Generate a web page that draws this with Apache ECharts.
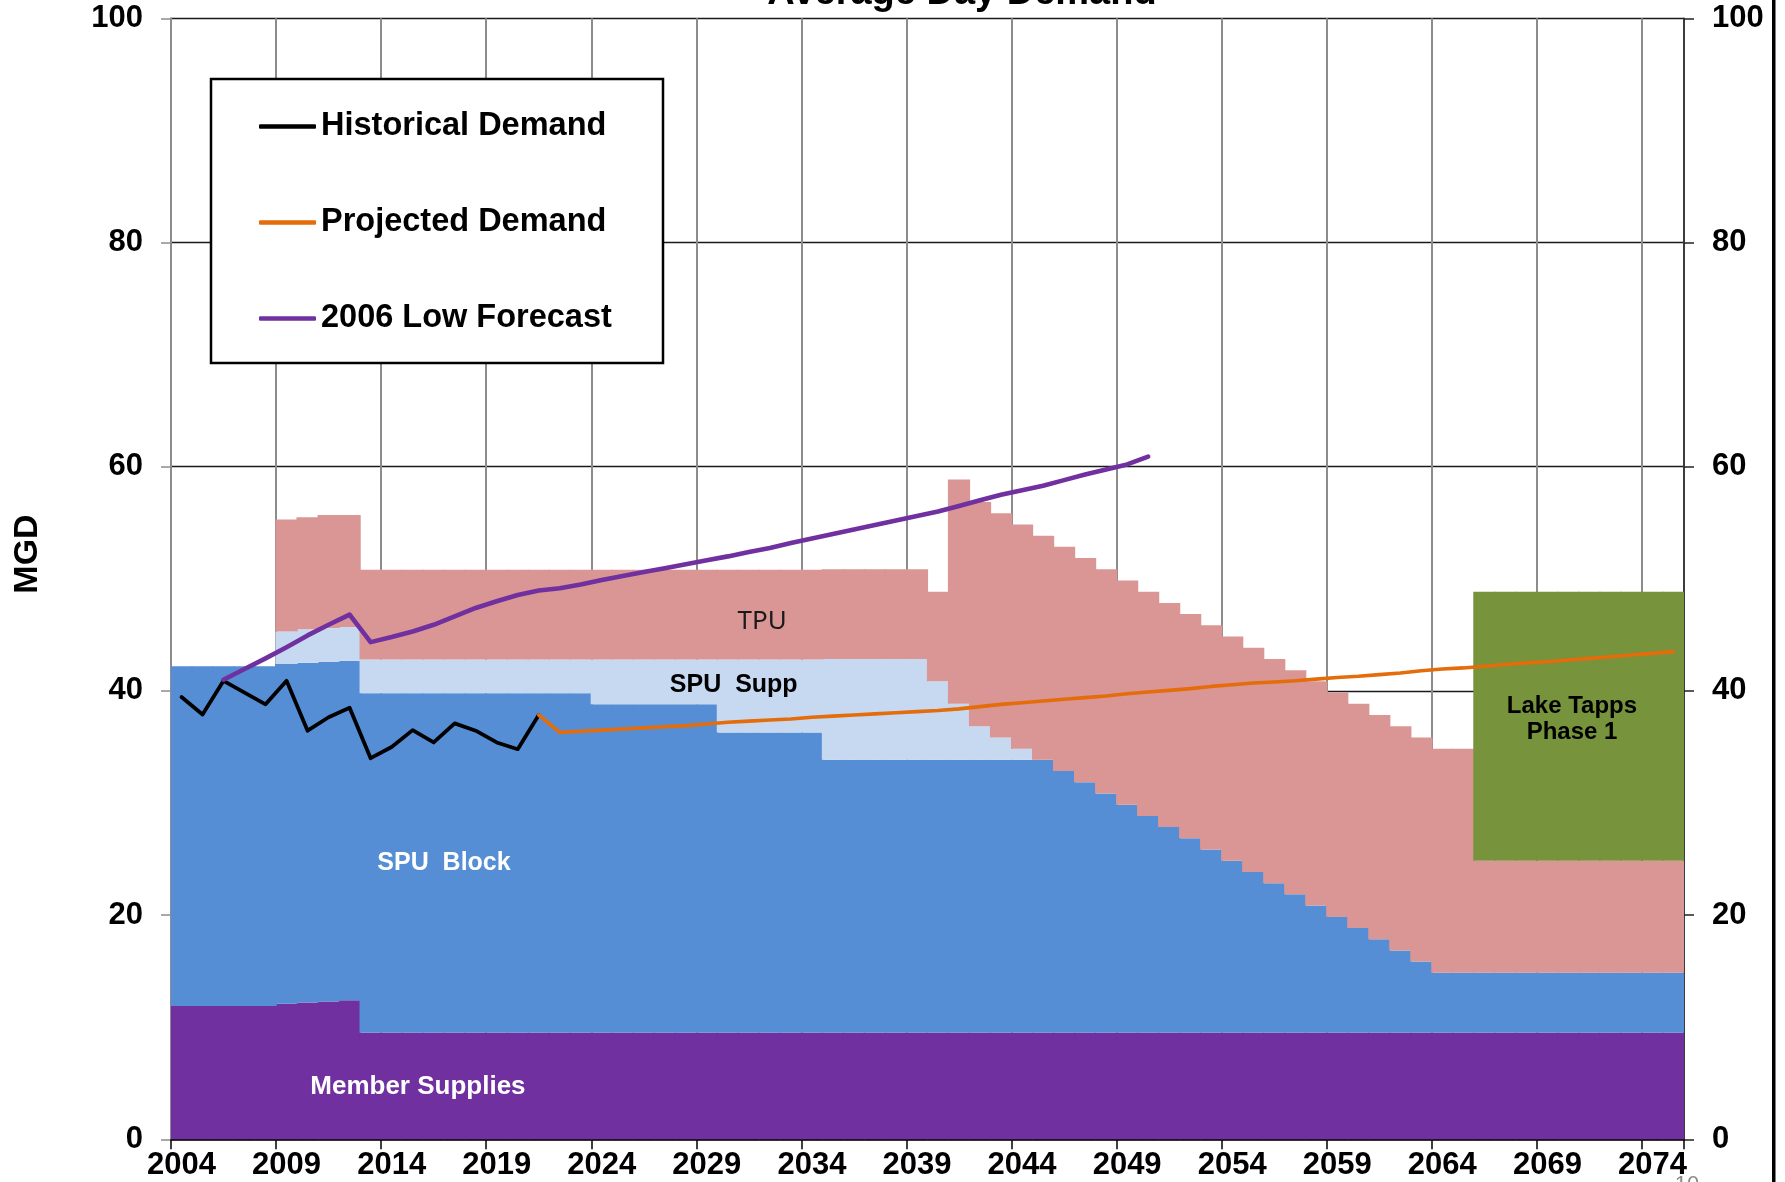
<!DOCTYPE html>
<html>
<head>
<meta charset="utf-8">
<script src="https://cdn.jsdelivr.net/npm/echarts@6/dist/echarts.min.js"></script>
<style>html,body{margin:0;padding:0;background:#fff;}#c{width:1785px;height:1182px;}</style>
</head>
<body>
<div id="c"></div>
<script>
// ---------- categories ----------
const years = [];
for (let y = 2004; y <= 2075; y++) years.push(String(y));
const yTicks = [0, 20, 40, 60, 80, 100];

// ---------- supply stack (MGD) ----------
const memberSupplies = [
  11.9, 11.9, 11.9, 11.9, 11.9, 12.1, 12.2, 12.3, 12.4,
  9.5, 9.5, 9.5, 9.5, 9.5, 9.5, 9.5, 9.5, 9.5, 9.5,
  9.5, 9.5, 9.5, 9.5, 9.5, 9.5, 9.5, 9.5, 9.5, 9.5,
  9.5, 9.5, 9.5, 9.5, 9.5, 9.5, 9.5, 9.5, 9.5, 9.5,
  9.5, 9.5, 9.5, 9.5, 9.5, 9.5, 9.5, 9.5, 9.5, 9.5,
  9.5, 9.5, 9.5, 9.5, 9.5, 9.5, 9.5, 9.5, 9.5, 9.5,
  9.5, 9.5, 9.5, 9.5, 9.5, 9.5, 9.5, 9.5, 9.5, 9.5,
  9.5, 9.5, 9.5
];
const spuBlock = [
  30.3, 30.3, 30.3, 30.3, 30.3, 30.3, 30.3, 30.3, 30.3, 30.3,
  30.3, 30.3, 30.3, 30.3, 30.3, 30.3, 30.3, 30.3, 30.3, 30.3,
  29.3, 29.3, 29.3, 29.3, 29.3, 29.3,
  26.8, 26.8, 26.8, 26.8, 26.8,
  24.35, 24.35, 24.35, 24.35, 24.35, 24.35, 24.35, 24.35, 24.35, 24.35, 24.35,
  23.35, 22.35, 21.35, 20.35, 19.35, 18.35, 17.35, 16.35, 15.35, 14.35,
  13.35, 12.35, 11.35, 10.35, 9.35, 8.35, 7.35, 6.35, 5.35,
  5.35, 5.35, 5.35, 5.35, 5.35, 5.35, 5.35, 5.35, 5.35, 5.35, 5.35
];
const spuSupp = [
  null, null, null, null, null,
  2.9, 3.0, 3.0, 3.0,
  3.0, 3.0, 3.0, 3.0, 3.0, 3.0, 3.0, 3.0, 3.0, 3.0, 3.0,
  4.0, 4.0, 4.0, 4.0, 4.0, 4.0,
  6.5, 6.5, 6.5, 6.5, 6.5,
  9.0, 9.0, 9.0, 9.0, 9.0,
  7.0, 5.0, 3.0, 2.0, 1.0,
  null, null, null, null, null, null, null, null, null, null,
  null, null, null, null, null, null, null, null, null, null,
  null, null, null, null, null, null, null, null, null, null, null
];
const tpu = [
  null, null, null, null, null,
  10.0, 10.0, 10.1, 10.0,
  8, 8, 8, 8, 8, 8, 8, 8, 8, 8,
  8, 8, 8, 8, 8, 8, 8, 8, 8, 8,
  8, 8, 8, 8, 8, 8, 8, 8,
  20, 20, 20, 20, 20, 20, 20, 20, 20, 20,
  20, 20, 20, 20, 20, 20, 20, 20, 20, 20,
  20, 20, 20, 20, 20,
  10, 10, 10, 10, 10, 10, 10, 10, 10, 10
];
const lakeTapps = [
  null, null, null, null, null, null, null, null, null, null,
  null, null, null, null, null, null, null, null, null, null,
  null, null, null, null, null, null, null, null, null, null,
  null, null, null, null, null, null, null, null, null, null,
  null, null, null, null, null, null, null, null, null, null,
  null, null, null, null, null, null, null, null, null, null,
  null, null,
  24, 24, 24, 24, 24, 24, 24, 24, 24, 24
];

// ---------- demand lines (MGD) ----------
const historicalDemand = [
  39.45, 37.9, 40.9, 39.85, 38.8, 40.9, 36.45, 37.65, 38.5, 34.0,
  35.0, 36.5, 35.4, 37.1, 36.45, 35.4, 34.8, 37.85,
  null, null, null, null, null, null, null, null, null, null,
  null, null, null, null, null, null, null, null, null, null,
  null, null, null, null, null, null, null, null, null, null,
  null, null, null, null, null, null, null, null, null, null,
  null, null, null, null, null, null, null, null, null, null,
  null, null, null, null
];
const projectedDemand = [
  null, null, null, null, null, null, null, null, null, null,
  null, null, null, null, null, null, null,
  37.85, 36.3, 36.4, 36.5, 36.6, 36.7, 36.8, 36.9, 37.05, 37.2,
  37.3, 37.4, 37.5, 37.65, 37.75, 37.85, 37.95, 38.05, 38.15, 38.25,
  38.4, 38.6, 38.8, 38.95, 39.1, 39.25, 39.4, 39.55, 39.75, 39.9,
  40.05, 40.2, 40.4, 40.55, 40.7, 40.8, 40.9, 41.05, 41.2, 41.3,
  41.45, 41.6, 41.8, 41.95, 42.05, 42.2, 42.35, 42.5, 42.6, 42.75,
  42.9, 43.05, 43.2, 43.35, 43.5
];
const lowForecast2006 = [
  null, null,
  41.0, 41.95, 42.9, 43.9, 44.95, 45.9, 46.8, 44.35, 44.8, 45.3,
  45.9, 46.65, 47.4, 48.0, 48.55, 48.95, 49.15, 49.5, 49.9, 50.25,
  50.6, 50.95, 51.3, 51.65, 52.0, 52.4, 52.75, 53.2, 53.6, 54.0,
  54.4, 54.8, 55.2, 55.6, 56.0, 56.5, 57.0, 57.5, 57.9, 58.3,
  58.8, 59.3, 59.75, 60.2, 60.9,
  null, null, null, null, null, null, null, null, null, null,
  null, null, null, null, null, null, null, null, null, null,
  null, null, null, null, null
];

// ---------- in-plot labels (data coordinates: fractional category index, value) ----------
const areaLabels = [
  { text: 'TPU', cx: 27.63, v: 46.2, size: 26, weight: 'normal', family: "'Noto Sans', 'Liberation Sans', sans-serif", color: '#1a1a1a' },
  { text: 'SPU  Supp', cx: 26.28, v: 40.5, size: 25, weight: 'bold', color: '#000' },
  { text: 'SPU  Block', cx: 12.49, v: 24.66, size: 25, weight: 'bold', color: '#fff' },
  { text: 'Member Supplies', cx: 11.25, v: 4.7, size: 26, weight: 'bold', color: '#fff' },
  { text: 'Lake Tapps\nPhase 1', cx: 66.17, v: 37.45, size: 24, weight: 'bold', color: '#000', lineHeight: 26 }
];

const FONT = "'Liberation Sans', Arial, Helvetica, sans-serif";

function barSeries(name, data, color) {
  return {
    name: name, type: 'bar', stack: 'supply', data: data,
    barWidth: 22.2, silent: true, z: 2,
    itemStyle: { color: color, borderWidth: 0 },
    emphasis: { disabled: true }
  };
}
function lineSeries(name, data, color, width) {
  return {
    name: name, type: 'line', data: data, symbol: 'none', showSymbol: false,
    connectNulls: false, silent: true, z: 5,
    lineStyle: { color: color, width: width, join: 'round', cap: 'round' },
    itemStyle: { color: color }, emphasis: { disabled: true }
  };
}

const chart = echarts.init(document.getElementById('c'), null, { renderer: 'canvas', width: 1785, height: 1182 });

const tickLabel = { fontSize: 31, fontWeight: 'bold', color: '#000', fontFamily: FONT };

const option = {
  animation: false,
  backgroundColor: '#fff',
  grid: { left: 171, right: 101, top: 18.3, bottom: 42.7, containLabel: false, outerBoundsMode: 'none' },
  legend: {
    show: true, orient: 'vertical', left: 259, top: 110, padding: 0,
    icon: 'roundRect', itemWidth: 57, itemHeight: 4.5, itemGap: 63, selectedMode: false, z: 10,
    data: ['Historical Demand', 'Projected Demand', '2006 Low Forecast'],
    textStyle: { fontSize: 32.5, fontWeight: 'bold', color: '#000', fontFamily: FONT, lineHeight: 32 }
  },
  xAxis: {
    type: 'category', data: years, boundaryGap: true,
    axisLine: { show: true, lineStyle: { color: '#000', width: 1.5 } },
    axisTick: { show: true, interval: 4, length: 10, lineStyle: { color: '#000', width: 1.5 } },
    axisLabel: Object.assign({ interval: 4, margin: 11 }, tickLabel),
    splitLine: { show: true, interval: 4, lineStyle: { color: '#8c8c8c', width: 2 } }
  },
  yAxis: [
    {
      type: 'value', position: 'left', min: yTicks[0], max: yTicks[yTicks.length - 1], interval: 20,
      axisLine: { show: true, lineStyle: { color: '#8c8c8c', width: 2 } },
      axisTick: { show: true, length: 10, lineStyle: { color: '#8c8c8c', width: 1.5 } },
      axisLabel: Object.assign({ margin: 28 }, tickLabel),
      splitLine: { show: true, lineStyle: { color: '#1a1a1a', width: 1.3 } }
    },
    {
      type: 'value', position: 'right', min: yTicks[0], max: yTicks[yTicks.length - 1], interval: 20,
      axisLine: { show: true, lineStyle: { color: '#222', width: 1.5 } },
      axisTick: { show: true, length: 10, lineStyle: { color: '#222', width: 1.5 } },
      axisLabel: Object.assign({ margin: 28 }, tickLabel),
      splitLine: { show: false }
    }
  ],
  series: [
    barSeries('Member Supplies', memberSupplies, '#7030A0'),
    barSeries('SPU Block', spuBlock, '#558ED5'),
    barSeries('SPU Supp', spuSupp, '#C6D9F1'),
    barSeries('TPU', tpu, '#D99694'),
    barSeries('Lake Tapps Phase 1', lakeTapps, '#77933C'),
    lineSeries('Historical Demand', historicalDemand, '#000000', 3.8),
    lineSeries('Projected Demand', projectedDemand, '#E46C0A', 3.6),
    lineSeries('2006 Low Forecast', lowForecast2006, '#7030A0', 4.6)
  ]
};
chart.setOption(option);

// place in-plot labels through the chart's own scales
const p0 = chart.convertToPixel({ xAxisIndex: 0, yAxisIndex: 0 }, [0, 0]);
const p1 = chart.convertToPixel({ xAxisIndex: 0, yAxisIndex: 0 }, [1, 0]);
const step = p1[0] - p0[0];
const labelEls = areaLabels.map(function (l) {
  const py = chart.convertToPixel({ yAxisIndex: 0 }, l.v);
  return {
    type: 'text', x: p0[0] + step * l.cx, y: py, z: 20, silent: true,
    style: {
      text: l.text, fill: l.color, fontSize: l.size, fontWeight: l.weight,
      fontFamily: l.family || FONT, align: 'center', verticalAlign: 'middle',
      lineHeight: l.lineHeight || l.size
    }
  };
});

chart.setOption({
  graphic: [
    { type: 'rect', z: 8, silent: true, shape: { x: 211, y: 79, width: 452, height: 284 },
      style: { fill: '#fff', stroke: '#000', lineWidth: 2.5 } },
    { type: 'rect', z: 8, silent: true, shape: { x: 1772, y: 0, width: 3.5, height: 1182 },
      style: { fill: '#000' } },
    { type: 'text', z: 8, silent: true, x: 962, y: -6,
      style: { text: 'Average Day Demand', fill: '#000', fontSize: 38, fontWeight: 'bold', fontFamily: FONT, align: 'center', verticalAlign: 'middle' } },
    { type: 'text', z: 8, silent: true, x: 28, y: 554, rotation: Math.PI / 2,
      style: { text: 'MGD', fill: '#000', fontSize: 34, fontWeight: 'bold', fontFamily: FONT, align: 'center', verticalAlign: 'middle' } },
    { type: 'text', z: 8, silent: true, x: 1687, y: 1174,
      style: { text: '10', fill: '#8a8a8a', fontSize: 22, fontFamily: FONT, align: 'center', verticalAlign: 'top' } }
  ].concat(labelEls)
});
</script>
</body>
</html>
